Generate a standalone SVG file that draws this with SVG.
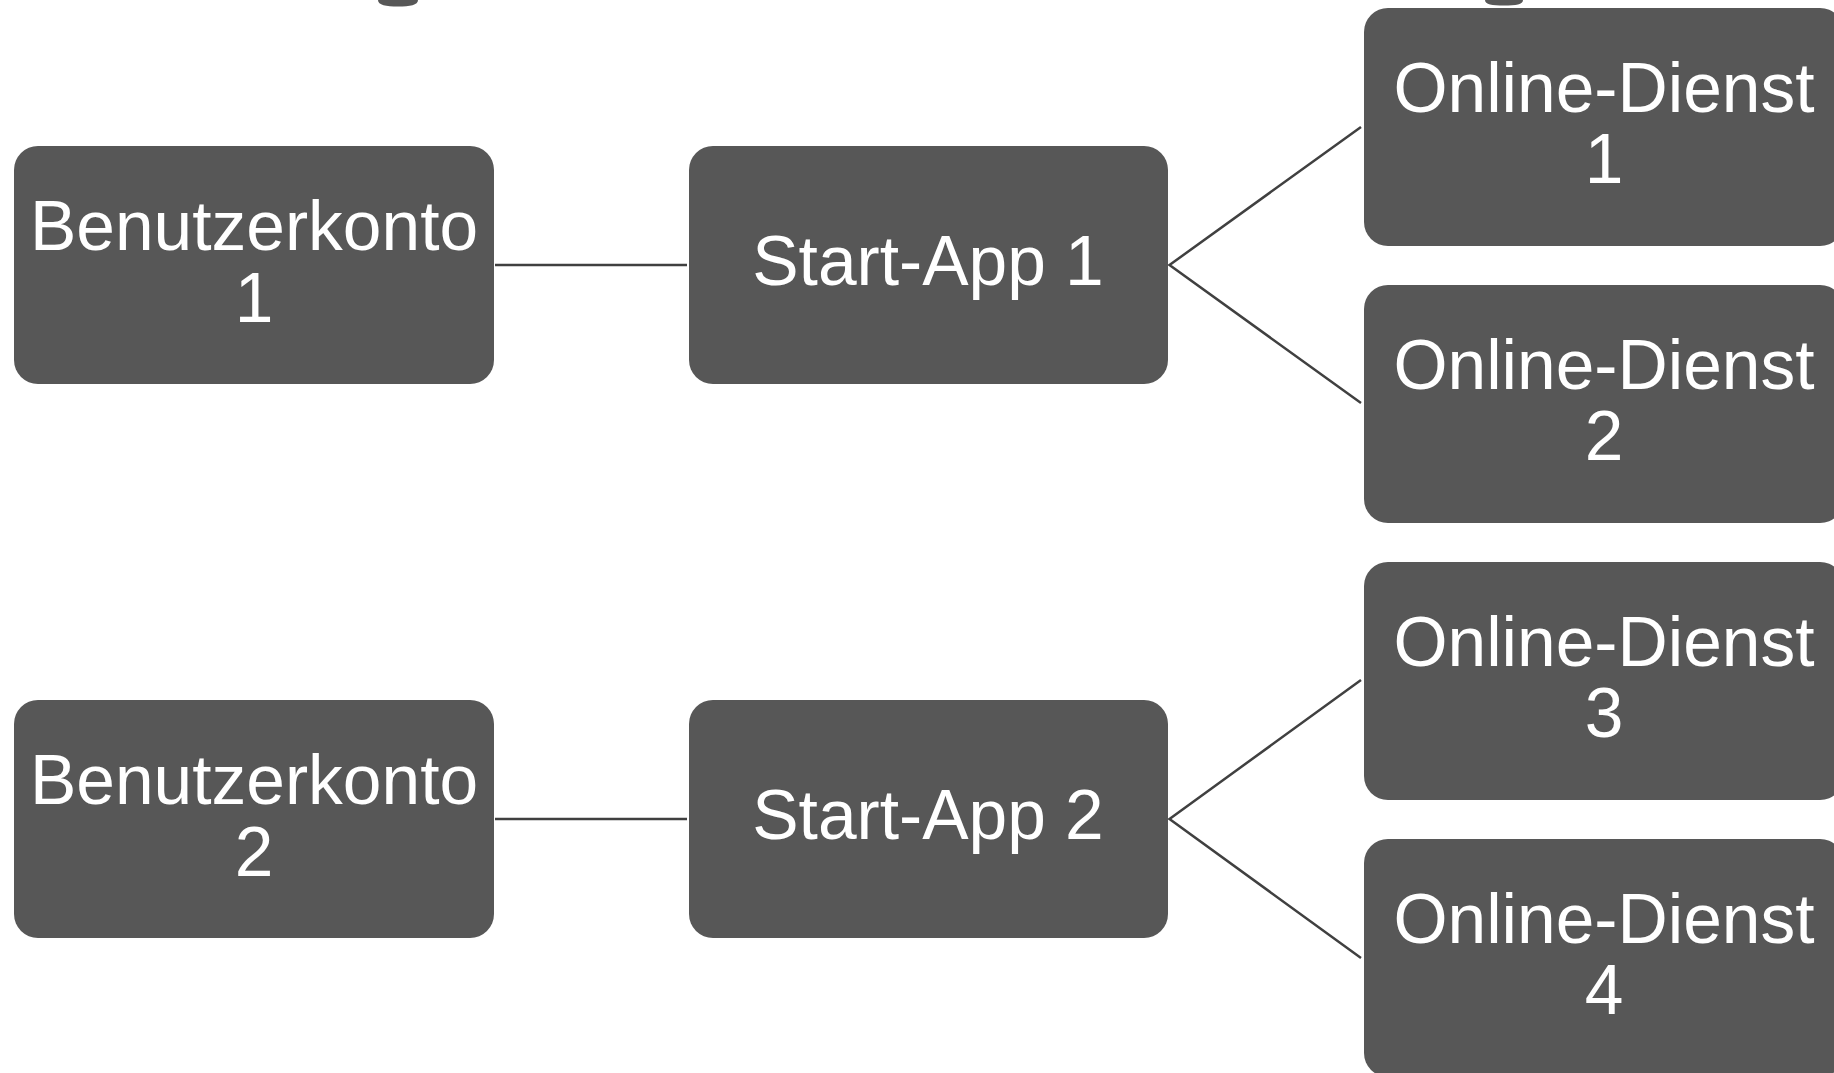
<svg xmlns="http://www.w3.org/2000/svg" width="1834" height="1073" viewBox="0 0 1834 1073">
<style>
.box{fill:#575757;}
.lbl{fill:#ffffff;font-family:"Liberation Sans",Arial,sans-serif;font-size:69.5px;text-anchor:middle;}
.conn{stroke:#404040;stroke-width:2.5;fill:none;}
</style>
<rect width="1834" height="1073" fill="#ffffff"/>
<g id="fragments">
<path class="box" d="M378,0 C378,5 386,6.5 398,6.5 C410,6.5 418,5 418,0 Z"/>
<path class="box" d="M1485,0 C1485,4.5 1492,5.5 1504,5.5 C1516,5.5 1523,4.5 1523,0 Z"/>
</g>
<g id="connectors">
<line class="conn" x1="495" y1="265" x2="687" y2="265"/>
<polyline class="conn" points="1361,127 1169.5,265 1361,403"/>
<line class="conn" x1="495" y1="819" x2="687" y2="819"/>
<polyline class="conn" points="1361,680 1169.5,819 1361,958"/>
</g>
<g id="benutzerkonto1">
<rect class="box" x="14" y="146" width="480" height="238" rx="24"/>
<text class="lbl" x="254" y="250">Benutzerkonto</text>
<text class="lbl" x="254" y="322">1</text>
</g>
<g id="startapp1">
<rect class="box" x="689" y="146" width="479" height="238" rx="24"/>
<text class="lbl" x="928" y="285">Start-App 1</text>
</g>
<g id="online1">
<rect class="box" x="1364" y="8" width="480" height="238" rx="24"/>
<text class="lbl" x="1604" y="112">Online-Dienst</text>
<text class="lbl" x="1604" y="183">1</text>
</g>
<g id="online2">
<rect class="box" x="1364" y="285" width="480" height="238" rx="24"/>
<text class="lbl" x="1604" y="389">Online-Dienst</text>
<text class="lbl" x="1604" y="460">2</text>
</g>
<g id="benutzerkonto2">
<rect class="box" x="14" y="700" width="480" height="238" rx="24"/>
<text class="lbl" x="254" y="804">Benutzerkonto</text>
<text class="lbl" x="254" y="876">2</text>
</g>
<g id="startapp2">
<rect class="box" x="689" y="700" width="479" height="238" rx="24"/>
<text class="lbl" x="928" y="839">Start-App 2</text>
</g>
<g id="online3">
<rect class="box" x="1364" y="562" width="480" height="238" rx="24"/>
<text class="lbl" x="1604" y="666">Online-Dienst</text>
<text class="lbl" x="1604" y="737">3</text>
</g>
<g id="online4">
<rect class="box" x="1364" y="839" width="480" height="238" rx="24"/>
<text class="lbl" x="1604" y="943">Online-Dienst</text>
<text class="lbl" x="1604" y="1014">4</text>
</g>
</svg>
